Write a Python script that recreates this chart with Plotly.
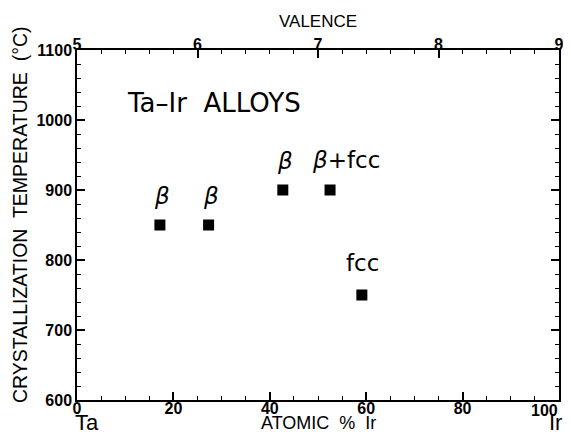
import plotly.graph_objects as go

# Data
atomic_pct_ir = [17.2, 27.3, 42.7, 52.5, 59.1]
cryst_temp_c = [850, 850, 900, 900, 750]
phase_labels = ["β", "β", "β", "β+fcc", "fcc"]

x_ticks = [0, 20, 40, 60, 80, 100]
x_tick_labels = ["0", "20", "40", "60", "80", "100"]
y_ticks = [600, 700, 800, 900, 1000, 1100]
valence_ticks = [5, 6, 7, 8, 9]

valence = [5 + 4 * v / 100 for v in atomic_pct_ir]

FONT = "Liberation Sans"
WIDE = "DejaVu Sans"

fig = go.Figure()
fig.add_trace(go.Scatter(
    x=atomic_pct_ir, y=cryst_temp_c, mode="markers",
    marker=dict(symbol="square", size=11, color="black"),
    hoverinfo="x+y", showlegend=False))
fig.add_trace(go.Scatter(
    x=valence, y=cryst_temp_c, mode="markers", xaxis="x2",
    marker=dict(size=1, opacity=0), hoverinfo="skip", showlegend=False))

tickfont = dict(family=FONT, size=16, color="black", weight="bold")

# last bottom label is drawn right-aligned so it stays inside the page
bottom_text = x_tick_labels[:-1] + [""]

fig.update_layout(
    width=563, height=428,
    margin=dict(l=69, r=7, t=42, b=36),
    paper_bgcolor="white", plot_bgcolor="white",
    xaxis=dict(range=[0, 100], tickvals=x_ticks, ticktext=bottom_text,
               ticks="inside", ticklen=8,
               tickwidth=1.5, tickcolor="black", showline=True, linecolor="black",
               linewidth=1.5, showgrid=False, zeroline=False, tickfont=tickfont,
               ticklabelstandoff=-7,
               minor=dict(dtick=5, ticks="inside", ticklen=4, tickwidth=1.2,
                          tickcolor="black", showgrid=False)),
    xaxis2=dict(range=[5, 9], tickvals=valence_ticks, overlaying="x", side="top",
                ticks="inside", ticklen=8, tickwidth=1.5, tickcolor="black",
                showline=True, linecolor="black", linewidth=1.5, showgrid=False,
                zeroline=False, tickfont=tickfont, ticklabelstandoff=-8,
                minor=dict(dtick=0.2, ticks="inside", ticklen=4, tickwidth=1.2,
                           tickcolor="black", showgrid=False)),
    yaxis=dict(range=[600, 1100], tickvals=y_ticks, ticks="inside", ticklen=8,
               tickwidth=1.5, tickcolor="black", showline=True, linecolor="black",
               linewidth=1.5, mirror="ticks", showgrid=False, zeroline=False,
               tickfont=tickfont, ticklabelstandoff=0,
               minor=dict(dtick=20, ticks="inside", ticklen=4, tickwidth=1.2,
                          tickcolor="black", showgrid=False)),
)

annotations = []
for xv, yv, lab in zip(atomic_pct_ir, cryst_temp_c, phase_labels):
    if lab == "β+fcc":
        txt, xs, ys = "<i>β</i>+fcc", 16, 30
    elif lab == "fcc":
        txt, xs, ys = "fcc", 1, 32
    else:
        txt, xs, ys = "<i>β</i>", 2, 29
    annotations.append(dict(x=xv, y=yv, xref="x", yref="y", text=txt,
                            showarrow=False, xshift=xs, yshift=ys,
                            font=dict(family=WIDE, size=23, color="black")))

annotations += [
    dict(x=x_ticks[-1], y=0.0, xref="x", yref="paper", xanchor="right",
         yanchor="top", xshift=1, yshift=0, text=x_tick_labels[-1],
         showarrow=False, font=tickfont),
    dict(x=0.5, y=1.0, xref="paper", yref="paper", yanchor="bottom", yshift=17,
         text="VALENCE", showarrow=False,
         font=dict(family=FONT, size=17, color="black")),
    dict(x=0.5, y=0.0, xref="paper", yref="paper", yanchor="top", yshift=-11,
         text="ATOMIC  %  Ir", showarrow=False,
         font=dict(family=FONT, size=18, color="black")),
    dict(x=0.0, y=0.0, xref="paper", yref="paper", xanchor="left", yanchor="top",
         xshift=-4, yshift=-8, text="Ta", showarrow=False,
         font=dict(family=FONT, size=22, color="black")),
    dict(x=1.0, y=0.0, xref="paper", yref="paper", xanchor="center", yanchor="top",
         xshift=-4, yshift=-8, text="Ir", showarrow=False,
         font=dict(family=FONT, size=22, color="black")),
    dict(x=0.1, y=1024, xref="paper", yref="y", xanchor="left", yanchor="middle",
         text="Ta–Ir  ALLOYS", showarrow=False,
         font=dict(family=WIDE, size=26, color="black")),
    dict(x=0.0, y=0.5, xref="paper", yref="paper", xanchor="center",
         yanchor="middle", xshift=-57, yshift=10, textangle=-90,
         text="CRYSTALLIZATION  TEMPERATURE  (°C)", showarrow=False,
         font=dict(family=FONT, size=19.5, color="black")),
]
fig.update_layout(annotations=annotations)

fig.write_html("out.html")
